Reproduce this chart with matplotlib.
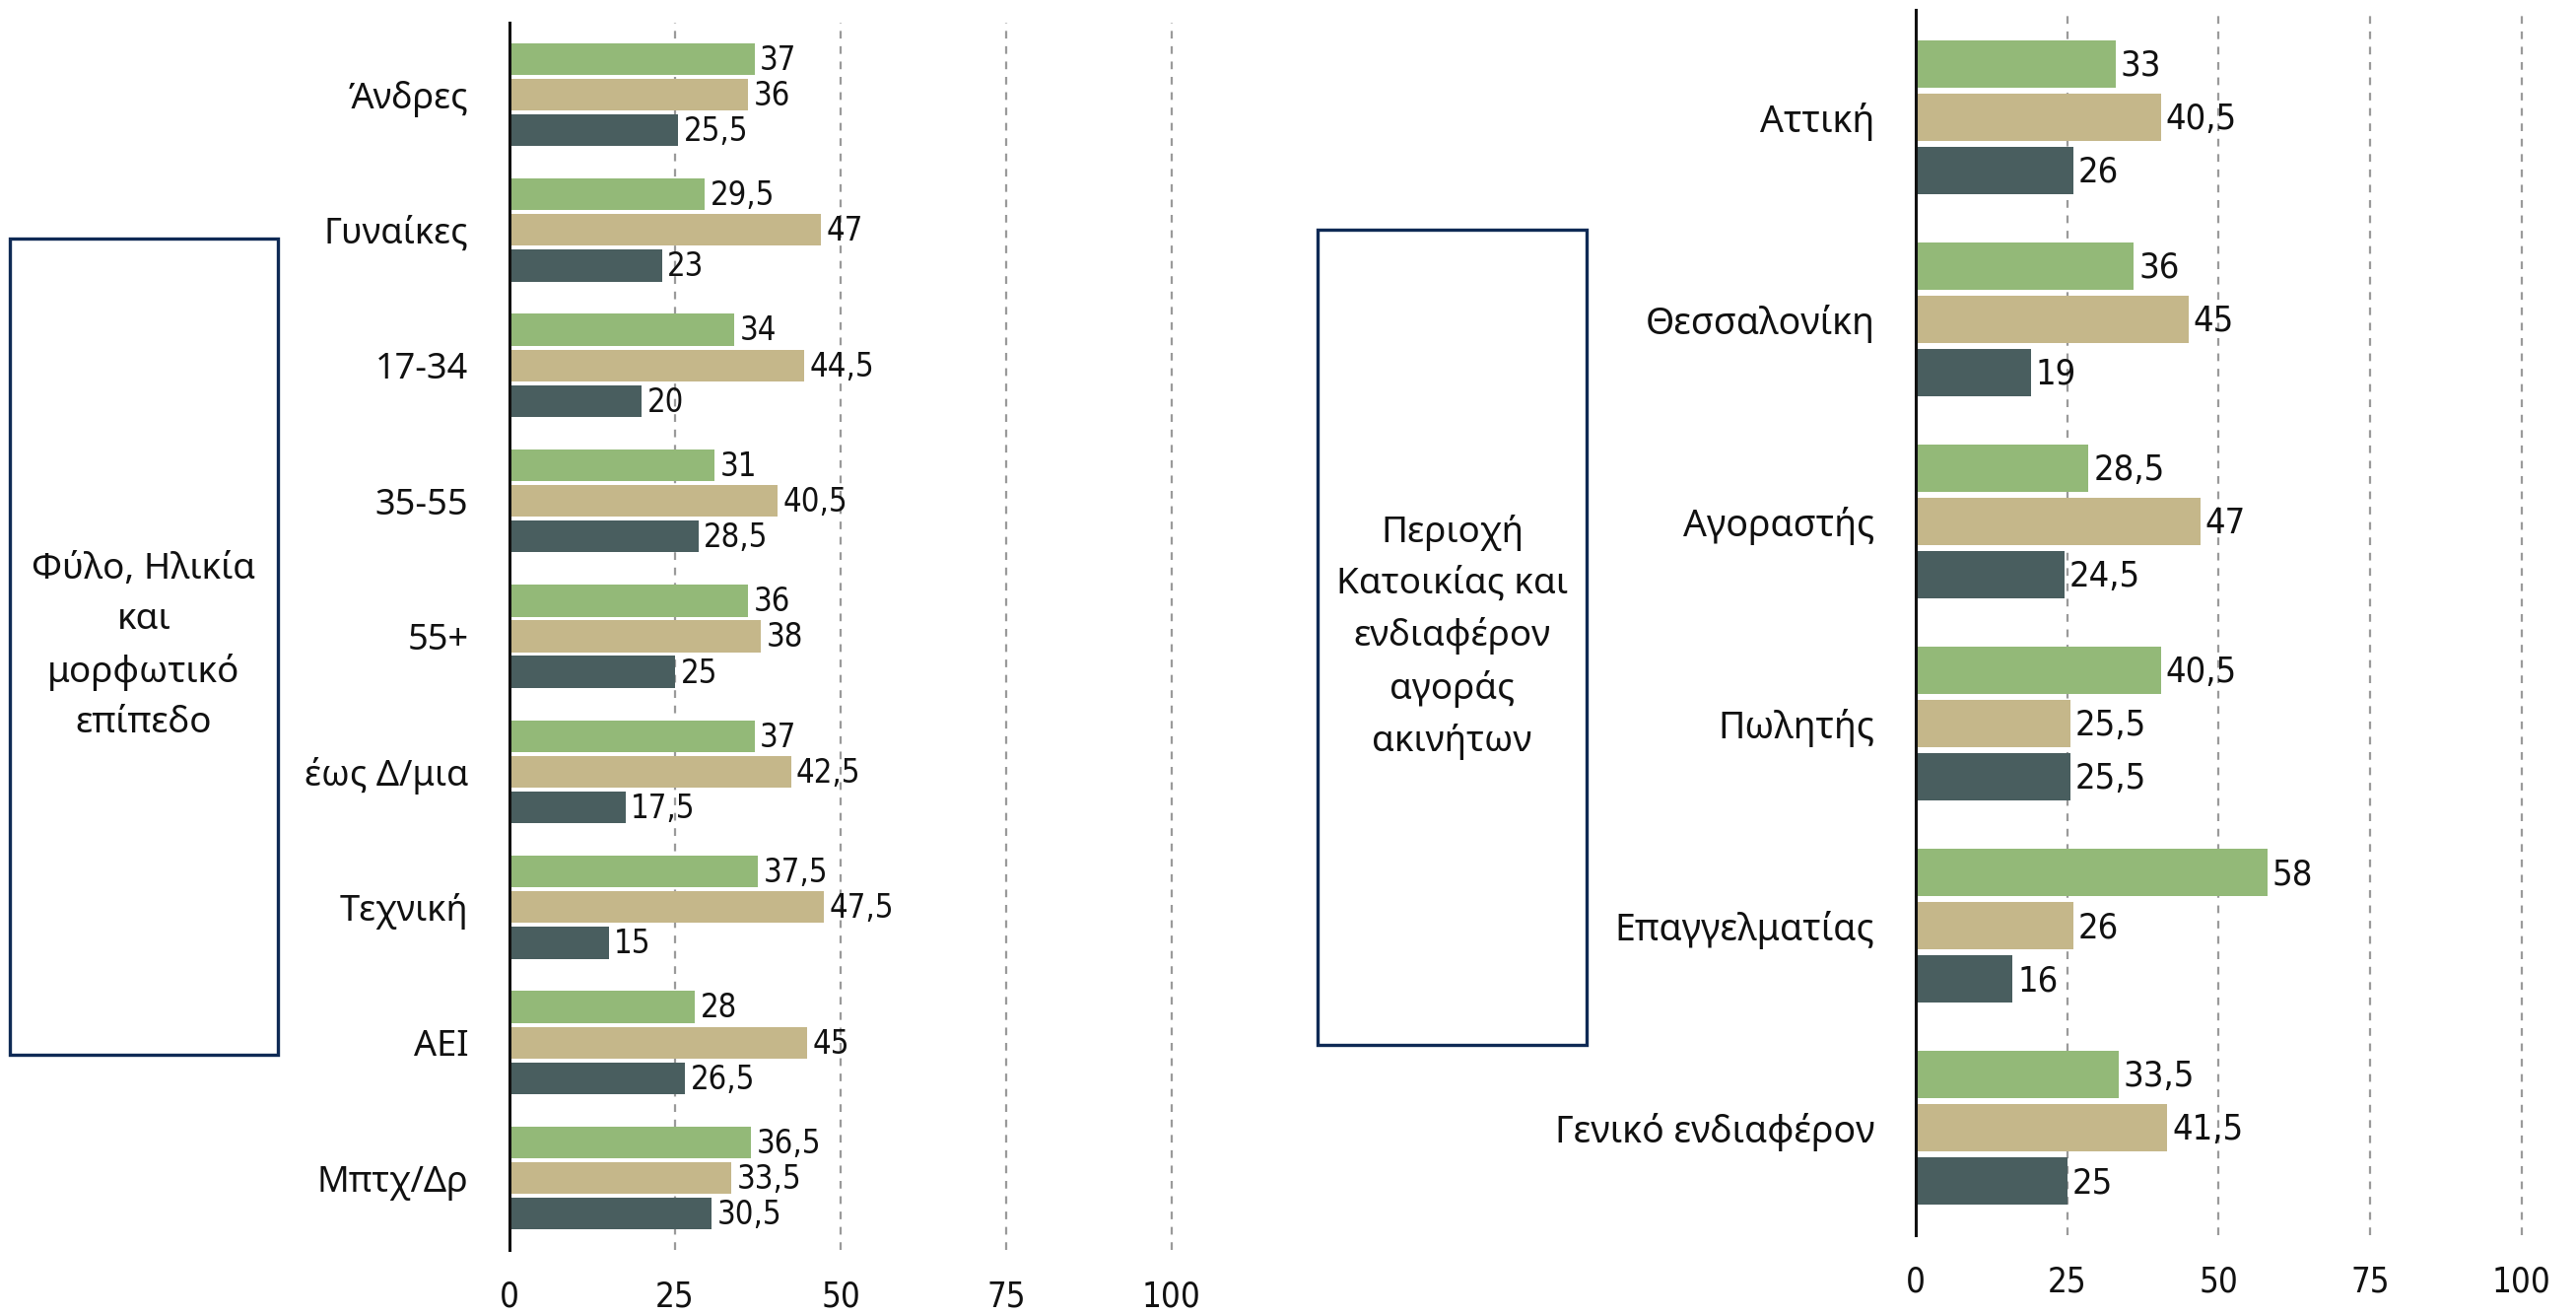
"""
    Δύο οριζόντια ραβδογράμματα με πλαίσια τίτλων
"""

import matplotlib.pyplot as plt
from matplotlib import font_manager
from matplotlib.patches import Rectangle

# --- δεδομένα ---
cat_left = ["Άνδρες", "Γυναίκες", "17-34", "35-55", "55+",
            "έως Δ/μια", "Τεχνική", "ΑΕΙ", "Μπτχ/Δρ"]
green_left = [37, 29.5, 34, 31, 36, 37, 37.5, 28, 36.5]
tan_left = [36, 47, 44.5, 40.5, 38, 42.5, 47.5, 45, 33.5]
dark_left = [25.5, 23, 20, 28.5, 25, 17.5, 15, 26.5, 30.5]

cat_right = ["Αττική", "Θεσσαλονίκη", "Αγοραστής", "Πωλητής",
             "Επαγγελματίας", "Γενικό ενδιαφέρον"]
green_right = [33, 36, 28.5, 40.5, 58, 33.5]
tan_right = [40.5, 45, 47, 25.5, 26, 41.5]
dark_right = [26, 19, 24.5, 25.5, 16, 25]

x_ticks = [0, 25, 50, 75, 100]

box_left = "Φύλο, Ηλικία\nκαι\nμορφωτικό\nεπίπεδο"
box_right = "Περιοχή\nΚατοικίας και\nενδιαφέρον\nαγοράς\nακινήτων"

GREEN = "#93b978"
TAN = "#c5b78a"
DARK = "#495e5f"
NAVY = "#0f2a55"

LABEL_FONT = "Noto Sans"

# στενή γραμματοσειρά για τους αριθμούς, αν υπάρχει
names = {f.name for f in font_manager.fontManager.ttflist}
if "Liberation Sans Narrow" in names:
    NUM_PROPS = {"family": "Liberation Sans Narrow"}
else:
    NUM_PROPS = {"family": "DejaVu Sans", "fontstretch": "condensed"}

W, H = 2614, 1333
fig = plt.figure(figsize=(W / 100, H / 100), dpi=100)


def px_box(x0, y0, x1, y1):
    """ pixel (πάνω-αριστερά) -> συντεταγμένες figure """
    return [x0 / W, 1 - y1 / H, (x1 - x0) / W, (y1 - y0) / H]


def fmt(v):
    return f"{v:g}".replace(".", ",")


def draw_panel(ax, cats, series, xmax, num_size, cat_size):
    pitch = 0.263
    height = 0.235
    n = len(cats)
    for k, (vals, col) in enumerate(series):
        pos = [i + (k - 1) * pitch for i in range(n)]
        bars = ax.barh(pos, vals, height=height, color=col, zorder=3)
        for b, v in zip(bars, vals):
            ax.text(b.get_width() + 0.8, b.get_y() + b.get_height() / 2 + 0.01, fmt(v),
                    ha="left", va="center", fontsize=num_size, color="#111111",
                    zorder=4, **NUM_PROPS)
    ax.set_yticks(range(n))
    ax.set_yticklabels(cats, fontsize=cat_size, family=LABEL_FONT, color="#111111")
    ax.set_ylim(n - 1 + 0.53, -0.53)
    ax.set_xlim(0, xmax)
    ax.set_xticks(x_ticks)
    ax.set_xticklabels([str(t) for t in x_ticks], fontsize=25, color="#111111",
                       **NUM_PROPS)
    ax.tick_params(axis="both", length=0)
    ax.tick_params(axis="y", pad=30)
    ax.tick_params(axis="x", pad=22)
    for s in ["top", "right", "bottom"]:
        ax.spines[s].set_visible(False)
    ax.spines["left"].set_linewidth(2.2)
    ax.spines["left"].set_color("#111111")
    ax.spines["left"].set_zorder(5)
    for t in x_ticks[1:]:
        ax.axvline(t, color="#9a9a9a", linewidth=1.6, linestyle=(0, (3.5, 3.5)), zorder=1)


ax1 = fig.add_axes(px_box(517, 23, 517 + 105 * 6.72, 1268))
draw_panel(ax1, cat_left, [(green_left, GREEN), (tan_left, TAN), (dark_left, DARK)],
           105, 23.5, 26)

ax2 = fig.add_axes(px_box(1944, 10, 1944 + 104 * 6.148, 1253))
draw_panel(ax2, cat_right, [(green_right, GREEN), (tan_right, TAN), (dark_right, DARK)],
           104, 26, 27)

# πλαίσια με τίτλους
for (x0, y0, x1, y1), txt in [((10, 242, 282, 1070), box_left),
                              ((1337, 233, 1610, 1060), box_right)]:
    b = px_box(x0, y0, x1, y1)
    fig.patches.append(Rectangle((b[0], b[1]), b[2], b[3], transform=fig.transFigure,
                                 fill=False, edgecolor=NAVY, linewidth=2.4))
    fig.text(b[0] + b[2] / 2, b[1] + b[3] / 2, txt, ha="center", va="center",
             fontsize=26.5, family=LABEL_FONT, color="#111111", linespacing=1.55,
             multialignment="center")

fig.savefig("out.png", dpi=100)
